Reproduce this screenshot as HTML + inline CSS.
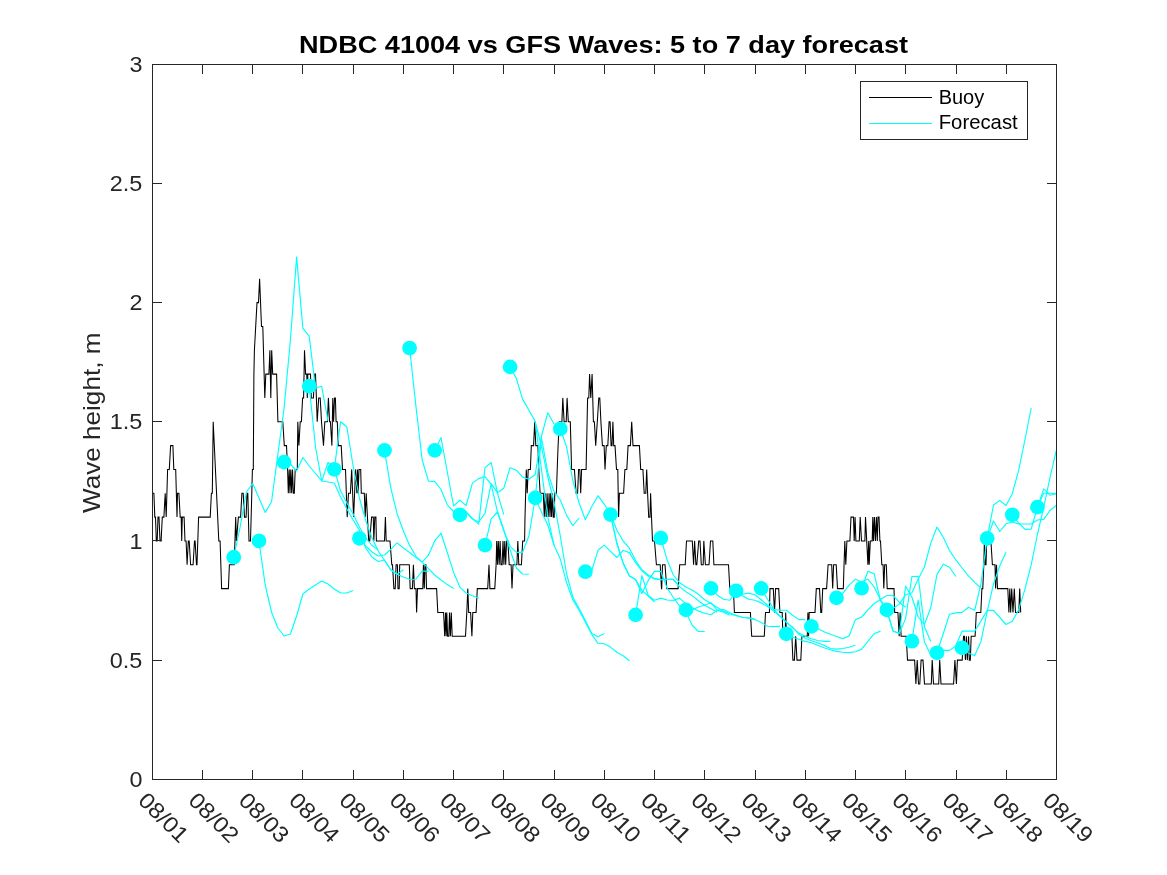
<!DOCTYPE html>
<html><head><meta charset="utf-8"><title>NDBC 41004 vs GFS Waves</title>
<style>
html,body{margin:0;padding:0;background:#fff;}
body{width:1167px;height:875px;overflow:hidden;font-family:"Liberation Sans",sans-serif;}
svg{display:block;will-change:transform;}
svg text{font-family:"Liberation Sans",sans-serif;fill:#262626;}
</style></head><body>
<svg width="1167" height="875" viewBox="0 0 1167 875">
<rect x="0" y="0" width="1167" height="875" fill="#ffffff"/>
<defs><clipPath id="pc"><rect x="152.5" y="64.5" width="904.0" height="715.0"/></clipPath></defs>
<g clip-path="url(#pc)" fill="none" stroke-linejoin="miter" stroke-miterlimit="3">
<polyline points="152.6,493.2 153.9,493.2 154.8,517.1 155.5,517.1 156.3,540.9 157.2,540.9 158.0,517.1 159.0,517.1 160.0,540.9 161.1,540.9 162.3,517.1 163.9,517.1 165.2,493.2 166.2,517.1 167.6,469.4 169.3,469.4 170.6,445.6 172.9,445.6 173.8,469.4 175.7,469.4 177.0,517.1 177.5,493.2 178.9,493.2 180.2,517.1 181.2,517.1 181.7,540.9 182.3,517.1 184.1,517.1 185.0,540.9 186.1,540.9 187.1,564.8 188.3,540.9 189.2,540.9 190.6,564.8 193.1,564.8 194.5,540.9 195.1,540.9 196.5,564.8 197.0,564.8 198.6,517.1 210.2,517.1 211.4,493.2 212.3,493.2 213.2,421.8 218.8,540.9 220.1,540.9 221.6,588.6 228.4,588.6 229.4,564.8 234.2,564.8 235.7,517.1 236.4,540.9 238.4,517.1 240.6,517.1 241.9,493.2 243.2,493.2 244.5,517.1 246.1,517.1 247.0,493.2 247.8,493.2 249.0,540.9 250.5,540.9 251.8,493.2 252.4,469.4 253.3,469.4 253.9,374.1 254.4,350.2 257.0,302.6 258.5,302.6 259.6,278.7 261.5,326.4 262.8,326.4 264.8,397.9 265.8,374.1 268.9,374.1 269.9,350.2 270.8,397.9 271.7,350.2 272.7,374.1 276.6,374.1 277.9,421.8 282.8,421.8 284.3,445.6 286.5,445.6 287.6,469.4 288.3,493.2 289.2,469.4 290.0,493.2 290.8,469.4 291.7,493.2 292.5,469.4 293.4,493.2 294.3,493.2 295.2,469.4 297.3,469.4 297.8,421.8 298.9,445.6 300.2,421.8 301.4,421.8 302.6,397.9 303.6,397.9 304.5,350.2 305.6,374.1 306.8,374.1 307.3,397.9 307.8,374.1 310.5,374.1 311.3,397.9 313.4,397.9 314.6,374.1 315.5,374.1 316.4,397.9 317.2,421.8 318.7,397.9 320.2,397.9 321.5,421.8 323.5,445.6 324.8,421.8 327.4,421.8 328.4,397.9 329.6,421.8 330.4,421.8 331.9,445.6 332.8,397.9 333.6,421.8 334.5,397.9 335.4,397.9 336.1,421.8 337.3,421.8 338.3,445.6 341.2,445.6 342.5,469.4 345.5,469.4 347.2,517.1 348.5,493.2 350.4,493.2 351.7,469.4 353.6,517.1 355.6,469.4 356.9,493.2 357.5,469.4 358.1,493.2 359.0,469.4 360.7,469.4 361.3,493.2 364.3,493.2 365.2,517.1 366.2,493.2 368.7,540.9 369.7,540.9 371.6,517.1 373.3,517.1 373.8,540.9 374.8,517.1 375.9,517.1 376.4,540.9 383.6,540.9 384.5,540.9 385.4,517.1 386.2,540.9 390.0,540.9 391.8,564.8 392.5,564.8 393.9,588.6 395.2,588.6 396.1,564.8 397.4,564.8 398.0,588.6 399.2,588.6 399.7,564.8 409.3,564.8 410.2,588.6 412.4,588.6 413.4,564.8 414.4,588.6 416.0,588.6 416.6,612.4 417.5,588.6 422.8,588.6 423.4,564.8 424.3,588.6 425.0,564.8 425.9,564.8 426.5,588.6 436.6,588.6 437.8,612.4 443.6,612.4 444.7,636.2 445.6,612.4 446.2,636.2 446.8,612.4 447.6,636.2 448.8,636.2 449.5,612.4 450.4,636.2 451.3,612.4 452.2,636.2 465.5,636.2 466.8,612.4 467.8,588.6 468.7,612.4 470.6,612.4 471.9,636.2 472.8,612.4 476.1,612.4 477.3,588.6 487.7,588.6 489.0,564.8 489.9,588.6 494.8,588.6 496.1,564.8 496.7,540.9 497.5,564.8 498.3,540.9 499.2,564.8 500.1,540.9 501.0,564.8 502.1,564.8 503.0,540.9 503.9,564.8 504.8,540.9 505.7,564.8 506.6,540.9 507.9,540.9 509.2,564.8 511.1,564.8 512.0,588.6 513.0,564.8 516.9,564.8 517.8,540.9 518.8,564.8 521.4,564.8 522.7,540.9 524.6,540.9 525.0,517.1 526.3,469.4 527.2,493.2 528.2,469.4 530.4,469.4 531.3,445.6 533.6,445.6 534.7,421.8 535.8,445.6 537.9,445.6 538.8,469.4 540.1,493.2 543.3,493.2 544.3,517.1 545.2,493.2 546.2,517.1 547.1,493.2 548.2,517.1 549.1,493.2 550.0,517.1 550.7,493.2 551.6,517.1 552.5,493.2 553.3,517.1 554.2,517.1 554.8,493.2 556.4,493.2 557.2,469.4 558.1,445.6 559.3,421.8 561.9,421.8 562.8,397.9 564.1,421.8 566.2,421.8 567.1,397.9 568.3,421.8 570.3,421.8 571.6,469.4 574.4,469.4 576.1,493.2 577.6,493.2 578.6,469.4 579.8,469.4 580.7,493.2 581.6,469.4 586.1,469.4 587.6,397.9 588.8,397.9 589.6,374.1 590.8,397.9 592.1,374.1 593.4,421.8 594.4,421.8 595.7,445.6 597.3,421.8 598.8,397.9 599.8,397.9 600.9,421.8 602.4,445.6 604.1,445.6 605.0,469.4 606.3,445.6 607.8,445.6 609.1,421.8 610.1,421.8 611.1,445.6 612.0,445.6 612.9,421.8 613.7,445.6 615.0,445.6 616.5,469.4 617.8,469.4 618.6,517.1 619.4,493.2 623.6,493.2 624.9,469.4 626.8,469.4 628.1,445.6 630.4,445.6 631.7,421.8 633.0,445.6 639.4,445.6 640.7,469.4 642.9,469.4 644.2,493.2 645.8,493.2 646.7,469.4 647.6,493.2 648.7,517.1 650.0,517.1 650.6,493.2 651.5,517.1 652.5,540.9 654.5,540.9 656.4,564.8 660.2,564.8 661.5,588.6 661.7,588.6 662.5,564.8 665.0,564.8 666.8,588.6 678.1,588.6 679.7,564.8 685.2,564.8 686.5,540.9 692.3,540.9 693.6,564.8 694.6,540.9 695.9,564.8 696.8,564.8 698.7,540.9 700.0,540.9 701.3,564.8 703.2,564.8 703.8,540.9 705.4,564.8 709.0,564.8 710.5,540.9 712.8,540.9 713.9,564.8 728.5,564.8 729.8,588.6 733.4,588.6 734.4,612.4 750.4,612.4 751.7,636.2 764.3,636.2 765.5,612.4 769.4,612.4 770.0,588.6 773.3,588.6 774.5,612.4 775.6,588.6 778.7,588.6 779.9,612.4 781.6,612.4 782.2,612.4 782.9,636.2 785.2,636.2 785.7,612.4 786.5,636.2 791.9,636.2 792.9,660.1 794.4,660.1 795.7,636.2 797.0,660.1 800.8,660.1 801.9,636.2 807.3,636.2 807.9,612.4 808.6,636.2 809.2,612.4 815.0,612.4 816.3,588.6 819.5,588.6 820.8,612.4 821.7,612.4 822.7,588.6 826.6,588.6 828.1,564.8 831.7,564.8 832.7,588.6 833.6,564.8 836.2,564.8 837.5,588.6 843.3,588.6 844.8,540.9 845.8,564.8 846.9,540.9 849.9,540.9 851.0,517.1 853.5,517.1 854.2,540.9 855.1,517.1 855.9,540.9 859.3,540.9 860.2,517.1 861.5,540.9 864.9,540.9 865.5,517.1 866.7,540.9 867.9,564.8 868.7,540.9 869.2,564.8 870.3,540.9 872.2,540.9 872.8,517.1 873.5,540.9 874.4,517.1 875.4,540.9 876.4,517.1 877.3,540.9 878.0,517.1 879.0,517.1 879.9,540.9 880.5,540.9 881.8,564.8 883.1,564.8 883.8,588.6 884.7,564.8 886.3,564.8 887.2,588.6 894.0,588.6 894.7,612.4 897.9,612.4 899.2,636.2 900.1,612.4 901.1,636.2 906.2,636.2 907.5,660.1 914.6,660.1 915.9,683.9 917.2,660.1 918.5,683.9 919.8,683.9 921.1,660.1 923.0,660.1 924.5,683.9 931.3,683.9 932.2,660.1 933.5,683.9 938.7,683.9 939.7,660.1 941.0,683.9 953.6,683.9 954.9,660.1 956.4,683.9 957.4,660.1 962.2,660.1 963.5,636.2 964.4,636.2 965.4,660.1 966.4,636.2 967.3,660.1 968.6,636.2 969.3,660.1 970.3,660.1 971.2,636.2 975.1,636.2 976.3,612.4 980.8,612.4 981.9,588.6 982.8,588.6 983.8,564.8 984.4,540.9 985.2,564.8 986.0,564.8 986.7,540.9 990.9,540.9 992.4,564.8 995.0,564.8 995.6,588.6 996.5,564.8 997.5,588.6 1007.8,588.6 1008.9,612.4 1009.8,588.6 1010.7,612.4 1011.7,588.6 1013.0,612.4 1014.3,588.6 1015.5,612.4 1018.8,612.4 1019.7,588.6 1020.7,612.4" stroke="#000" stroke-width="1.05"/>
<polyline points="233.8,557.2 240.1,527.0 246.4,492.0 252.7,483.5 259.0,498.0 265.2,512.4 271.5,502.0 277.8,455.0 284.1,408.0 290.4,340.0 296.6,257.1 302.9,328.4 309.2,336.1 315.5,388.0 321.7,386.3 328.0,421.0" stroke="#00ffff" stroke-width="1.15" stroke-linejoin="round"/>
<polyline points="259.0,540.9 265.2,585.0 271.5,612.0 277.8,628.0 284.1,636.0 290.4,634.0 296.6,616.0 302.9,594.0 309.2,589.0 315.5,585.0 321.7,581.0 328.0,584.0 334.3,589.0 340.6,593.0 346.9,593.0 353.1,590.5" stroke="#00ffff" stroke-width="1.15" stroke-linejoin="round"/>
<polyline points="284.1,462.1 290.4,464.0 296.6,471.0 302.9,457.5 309.2,466.0 315.5,473.5 321.7,481.0 328.0,462.5 334.3,469.0 340.6,491.0 346.9,503.0 353.1,514.0 359.4,527.0 365.7,538.0 372.0,545.5 378.2,549.7" stroke="#00ffff" stroke-width="1.15" stroke-linejoin="round"/>
<polyline points="309.2,386.2 315.5,447.0 321.7,481.0 328.0,482.0 334.3,483.0 340.6,497.0 346.9,509.0 353.1,520.0 359.4,530.0 365.7,548.0 372.0,557.0 378.2,561.5 384.5,560.0 390.8,570.0 397.1,574.3 403.4,569.8" stroke="#00ffff" stroke-width="1.15" stroke-linejoin="round"/>
<polyline points="334.3,469.2 340.6,421.7 346.9,427.0 353.1,466.0 359.4,498.0 365.7,520.5 372.0,538.0 378.2,551.0 384.5,560.2 390.8,569.8 397.1,574.3 403.4,577.0 409.6,579.5 415.9,579.2 422.2,571.1 428.5,571.1" stroke="#00ffff" stroke-width="1.15" stroke-linejoin="round"/>
<polyline points="359.4,538.2 365.7,546.0 372.0,552.0 378.2,556.0 384.5,555.0 390.8,549.3 397.1,542.9 403.4,548.0 409.6,552.5 415.9,557.6 422.2,562.1 428.5,568.6 434.7,575.0 441.0,580.0 447.3,584.6 453.6,588.5" stroke="#00ffff" stroke-width="1.15" stroke-linejoin="round"/>
<polyline points="384.5,450.4 390.8,488.0 397.1,513.7 403.4,531.0 409.6,545.4 415.9,556.3 422.2,562.1 428.5,555.1 434.7,540.9 441.0,533.2 447.3,552.5 453.6,572.4 459.9,587.2 466.1,593.0 472.4,595.8 478.7,598.1" stroke="#00ffff" stroke-width="1.15" stroke-linejoin="round"/>
<polyline points="409.6,348.0 415.9,406.0 422.2,460.0 428.5,481.1 434.7,481.4 441.0,489.5 447.3,504.9 453.6,511.5 459.9,514.0 466.1,512.0 472.4,518.4 478.7,524.2 485.0,467.6 491.2,462.5 497.5,493.3 503.8,514.6" stroke="#00ffff" stroke-width="1.15" stroke-linejoin="round"/>
<polyline points="434.7,450.4 441.0,437.5 447.3,472.0 453.6,506.0 459.9,500.2 466.1,505.6 472.4,483.1 478.7,478.6 485.0,476.6 491.2,484.3 497.5,512.0 503.8,530.0 510.1,550.0 516.4,568.0 522.6,574.0 528.9,574.3" stroke="#00ffff" stroke-width="1.15" stroke-linejoin="round"/>
<polyline points="459.9,514.8 466.1,512.0 472.4,519.0 478.7,522.0 485.0,513.3 491.2,483.7 497.5,492.7 503.8,488.2 510.1,467.7 516.4,470.2 522.6,477.1 528.9,479.2 535.2,474.5 541.5,436.0 547.8,412.8 554.0,424.0" stroke="#00ffff" stroke-width="1.15" stroke-linejoin="round"/>
<polyline points="485.0,545.1 491.2,518.8 497.5,512.0 503.8,530.8 510.1,546.3 516.4,552.3 522.6,552.3 528.9,536.0 535.2,498.0 541.5,438.0 547.8,472.6 554.0,491.4 560.3,500.0 566.6,515.4 572.9,525.7 579.1,518.0" stroke="#00ffff" stroke-width="1.15" stroke-linejoin="round"/>
<polyline points="510.1,366.9 516.4,378.6 522.6,399.1 528.9,410.3 535.2,421.4 541.5,447.0 547.8,477.0 554.0,502.0 560.3,536.0 566.6,574.0 572.9,597.4 579.1,608.6 585.4,620.5 591.7,633.4 598.0,636.8 604.3,633.4" stroke="#00ffff" stroke-width="1.15" stroke-linejoin="round"/>
<polyline points="535.2,497.9 541.5,512.0 547.8,525.0 554.0,545.0 560.3,558.9 566.6,582.8 572.9,600.0 579.1,610.3 585.4,622.3 591.7,634.3 598.0,643.3 604.3,643.7 610.5,647.1 616.8,652.3 623.1,655.7 629.4,660.8" stroke="#00ffff" stroke-width="1.15" stroke-linejoin="round"/>
<polyline points="560.3,428.8 566.6,447.0 572.9,481.0 579.1,503.0 585.4,519.7 591.7,506.8 598.0,495.7 604.3,504.3 610.5,514.5 616.8,543.0 623.1,563.1 629.4,576.0 635.6,579.6 641.9,590.4 648.2,596.0 654.5,602.2" stroke="#00ffff" stroke-width="1.15" stroke-linejoin="round"/>
<polyline points="585.4,571.7 591.7,570.5 598.0,550.3 604.3,545.1 610.5,551.3 616.8,557.5 623.1,550.3 629.4,552.6 635.6,562.6 641.9,570.8 648.2,576.0 654.5,578.9 660.8,579.6 667.0,579.4 673.3,579.4 679.6,586.8" stroke="#00ffff" stroke-width="1.15" stroke-linejoin="round"/>
<polyline points="610.5,514.5 616.8,543.0 623.1,563.1 629.4,576.0 635.6,579.6 641.9,593.5 648.2,580.6 654.5,571.4 660.8,571.4 667.0,587.8 673.3,597.5 679.6,605.8 685.9,612.0 692.1,625.0 698.4,631.5 704.7,631.5" stroke="#00ffff" stroke-width="1.15" stroke-linejoin="round"/>
<polyline points="635.6,614.9 641.9,575.5 648.2,595.5 654.5,600.2 660.8,598.1 667.0,600.0 673.3,600.4 679.6,598.1 685.9,603.9 692.1,607.8 698.4,611.1 704.7,613.2 711.0,614.7 717.3,610.1 723.5,612.2 729.8,615.2" stroke="#00ffff" stroke-width="1.15" stroke-linejoin="round"/>
<polyline points="660.8,538.0 667.0,559.6 673.3,575.0 679.6,582.7 685.9,587.0 692.1,590.0 698.4,594.2 704.7,599.8 711.0,603.4 717.3,607.5 723.5,611.1 729.8,613.7 736.1,615.8 742.4,617.3 748.6,617.8 754.9,619.4" stroke="#00ffff" stroke-width="1.15" stroke-linejoin="round"/>
<polyline points="685.9,609.9 692.1,610.0 698.4,607.0 704.7,605.0 711.0,602.7 717.3,610.4 723.5,609.6 729.8,612.7 736.1,615.2 742.4,617.3 748.6,618.1 754.9,619.4 761.2,622.4 767.5,626.3 773.8,626.6 780.0,626.4" stroke="#00ffff" stroke-width="1.15" stroke-linejoin="round"/>
<polyline points="711.0,588.4 717.3,595.2 723.5,599.3 729.8,600.3 736.1,591.0 742.4,594.2 748.6,593.1 754.9,594.7 761.2,599.8 767.5,605.0 773.8,609.6 780.0,610.1 786.3,610.3 792.6,615.2 798.9,619.6 805.1,619.6" stroke="#00ffff" stroke-width="1.15" stroke-linejoin="round"/>
<polyline points="736.1,590.8 742.4,595.7 748.6,599.3 754.9,600.3 761.2,602.9 767.5,606.5 773.8,611.1 780.0,616.0 786.3,622.0 792.6,627.9 798.9,633.1 805.1,636.3 811.4,638.8 817.7,640.5 824.0,641.4 830.3,641.4" stroke="#00ffff" stroke-width="1.15" stroke-linejoin="round"/>
<polyline points="761.2,588.4 767.5,599.3 773.8,609.1 780.0,616.3 786.3,622.4 792.6,627.1 798.9,634.3 805.1,638.2 811.4,640.8 817.7,642.7 824.0,645.3 830.3,648.5 836.5,649.1 842.8,648.5 849.1,647.2 855.4,645.3" stroke="#00ffff" stroke-width="1.15" stroke-linejoin="round"/>
<polyline points="786.3,633.8 792.6,637.3 798.9,639.2 805.1,641.4 811.4,642.7 817.7,645.3 824.0,647.8 830.3,649.8 836.5,651.4 842.8,652.3 849.1,652.6 855.4,651.7 861.6,649.1 867.9,641.4 874.2,633.7 880.5,631.1" stroke="#00ffff" stroke-width="1.15" stroke-linejoin="round"/>
<polyline points="811.4,626.4 817.7,628.6 824.0,631.8 830.3,634.3 836.5,636.5 842.8,638.6 849.1,636.0 855.4,619.6 861.6,617.0 867.9,609.9 874.2,603.5 880.5,599.5 886.8,595.5 893.0,595.5 899.3,602.2 905.6,607.3" stroke="#00ffff" stroke-width="1.15" stroke-linejoin="round"/>
<polyline points="836.5,597.9 842.8,593.4 849.1,585.2 855.4,579.3 861.6,582.0 867.9,579.0 874.2,587.2 880.5,599.6 886.8,609.9 893.0,631.0 899.3,633.5 905.6,618.6 911.9,576.5 918.2,576.2 924.4,626.8 930.7,641.2" stroke="#00ffff" stroke-width="1.15" stroke-linejoin="round"/>
<polyline points="861.6,588.3 867.9,571.3 874.2,573.9 880.5,601.0 886.8,609.9 893.0,631.0 899.3,633.5 905.6,586.2 911.9,597.0 918.2,617.0 924.4,624.5 930.7,608.0 937.0,574.4 943.3,564.2 949.5,567.3 955.8,576.5" stroke="#00ffff" stroke-width="1.15" stroke-linejoin="round"/>
<polyline points="886.8,609.7 893.0,608.5 899.3,604.1 905.6,594.7 911.9,592.8 918.2,579.0 924.4,567.0 930.7,543.4 937.0,527.0 943.3,537.2 949.5,550.6 955.8,559.8 962.1,568.0 968.4,575.8 974.7,582.4 980.9,587.7" stroke="#00ffff" stroke-width="1.15" stroke-linejoin="round"/>
<polyline points="911.9,641.2 918.2,600.2 924.4,641.7 930.7,655.0 937.0,652.8 943.3,650.4 949.5,650.4 955.8,646.0 962.1,647.9 968.4,653.0 974.7,655.6 980.9,641.7 987.2,611.5 993.5,584.0 999.8,565.7 1006.0,552.3" stroke="#00ffff" stroke-width="1.15" stroke-linejoin="round"/>
<polyline points="937.0,652.8 943.3,633.5 949.5,614.2 955.8,612.9 962.1,612.4 968.4,607.2 974.7,610.3 980.9,584.0 987.2,538.4 993.5,505.0 999.8,500.4 1006.0,505.5 1012.3,493.7 1018.6,470.6 1024.9,440.0 1031.2,408.0" stroke="#00ffff" stroke-width="1.15" stroke-linejoin="round"/>
<polyline points="987.2,538.4 993.5,521.0 999.8,531.5 1006.0,523.8 1012.3,522.0 1018.6,524.0 1024.9,524.0 1031.2,524.0 1037.4,520.0 1043.7,519.4 1050.0,510.5 1056.3,505.5" stroke="#00ffff" stroke-width="1.15" stroke-linejoin="round"/>
<polyline points="1012.3,514.8 1018.6,523.0 1024.9,529.4 1031.2,529.2 1037.4,507.1 1043.7,488.9 1050.0,495.2 1056.3,493.7" stroke="#00ffff" stroke-width="1.15" stroke-linejoin="round"/>
<polyline points="1037.4,507.1 1043.7,493.2 1050.0,493.2 1056.3,493.7" stroke="#00ffff" stroke-width="1.15" stroke-linejoin="round"/>
<polyline points="535.2,421.4 541.5,470.0 547.8,517.0 554.0,545.0" stroke="#00ffff" stroke-width="1.15" stroke-linejoin="round"/>
<polyline points="610.5,514.5 616.8,530.0 623.1,541.0 629.4,548.2 635.6,560.6 641.9,569.8 648.2,575.0 654.5,578.6 660.8,579.6 667.0,579.5 673.3,579.5 679.6,586.6 685.9,591.7 692.1,595.6 698.4,600.7 704.7,605.2 711.0,608.7 717.3,612.3" stroke="#00ffff" stroke-width="1.15" stroke-linejoin="round"/>
<polyline points="955.8,645.8 962.1,631.1 968.4,631.1 974.7,631.1 980.9,621.1 987.2,610.3 993.5,610.3 999.8,617.5 1006.0,624.5 1012.3,621.2 1018.6,609.9 1024.9,589.4 1031.2,564.7 1037.4,534.5 1043.7,507.3 1050.0,477.5 1056.3,450.5" stroke="#00ffff" stroke-width="1.15" stroke-linejoin="round"/>
</g>
<g fill="#00ffff">
<circle cx="233.8" cy="557.2" r="7.35"/>
<circle cx="259.0" cy="540.9" r="7.35"/>
<circle cx="284.1" cy="462.1" r="7.35"/>
<circle cx="309.2" cy="386.2" r="7.35"/>
<circle cx="334.3" cy="469.3" r="7.35"/>
<circle cx="359.4" cy="538.3" r="7.35"/>
<circle cx="384.5" cy="450.4" r="7.35"/>
<circle cx="409.6" cy="348.0" r="7.35"/>
<circle cx="434.7" cy="450.4" r="7.35"/>
<circle cx="459.9" cy="514.8" r="7.35"/>
<circle cx="485.0" cy="545.1" r="7.35"/>
<circle cx="510.1" cy="366.9" r="7.35"/>
<circle cx="535.2" cy="497.9" r="7.35"/>
<circle cx="560.3" cy="428.8" r="7.35"/>
<circle cx="585.4" cy="571.7" r="7.35"/>
<circle cx="610.5" cy="514.6" r="7.35"/>
<circle cx="635.6" cy="614.9" r="7.35"/>
<circle cx="660.8" cy="538.0" r="7.35"/>
<circle cx="685.9" cy="609.9" r="7.35"/>
<circle cx="711.0" cy="588.4" r="7.35"/>
<circle cx="736.1" cy="590.8" r="7.35"/>
<circle cx="761.2" cy="588.4" r="7.35"/>
<circle cx="786.3" cy="633.8" r="7.35"/>
<circle cx="811.4" cy="626.4" r="7.35"/>
<circle cx="836.5" cy="597.9" r="7.35"/>
<circle cx="861.6" cy="588.2" r="7.35"/>
<circle cx="886.8" cy="609.8" r="7.35"/>
<circle cx="911.9" cy="641.2" r="7.35"/>
<circle cx="937.0" cy="652.8" r="7.35"/>
<circle cx="962.1" cy="647.9" r="7.35"/>
<circle cx="987.2" cy="538.3" r="7.35"/>
<circle cx="1012.3" cy="514.8" r="7.35"/>
<circle cx="1037.4" cy="507.1" r="7.35"/>
</g>
<g stroke="#262626" stroke-width="1" fill="none" shape-rendering="crispEdges">
<rect x="152.5" y="64.5" width="904.0" height="715.0"/>
<line x1="202.5" y1="779.5" x2="202.5" y2="770.0"/><line x1="202.5" y1="64.5" x2="202.5" y2="74.0"/>
<line x1="252.5" y1="779.5" x2="252.5" y2="770.0"/><line x1="252.5" y1="64.5" x2="252.5" y2="74.0"/>
<line x1="302.5" y1="779.5" x2="302.5" y2="770.0"/><line x1="302.5" y1="64.5" x2="302.5" y2="74.0"/>
<line x1="353.5" y1="779.5" x2="353.5" y2="770.0"/><line x1="353.5" y1="64.5" x2="353.5" y2="74.0"/>
<line x1="403.5" y1="779.5" x2="403.5" y2="770.0"/><line x1="403.5" y1="64.5" x2="403.5" y2="74.0"/>
<line x1="453.5" y1="779.5" x2="453.5" y2="770.0"/><line x1="453.5" y1="64.5" x2="453.5" y2="74.0"/>
<line x1="503.5" y1="779.5" x2="503.5" y2="770.0"/><line x1="503.5" y1="64.5" x2="503.5" y2="74.0"/>
<line x1="554.5" y1="779.5" x2="554.5" y2="770.0"/><line x1="554.5" y1="64.5" x2="554.5" y2="74.0"/>
<line x1="604.5" y1="779.5" x2="604.5" y2="770.0"/><line x1="604.5" y1="64.5" x2="604.5" y2="74.0"/>
<line x1="654.5" y1="779.5" x2="654.5" y2="770.0"/><line x1="654.5" y1="64.5" x2="654.5" y2="74.0"/>
<line x1="704.5" y1="779.5" x2="704.5" y2="770.0"/><line x1="704.5" y1="64.5" x2="704.5" y2="74.0"/>
<line x1="755.5" y1="779.5" x2="755.5" y2="770.0"/><line x1="755.5" y1="64.5" x2="755.5" y2="74.0"/>
<line x1="805.5" y1="779.5" x2="805.5" y2="770.0"/><line x1="805.5" y1="64.5" x2="805.5" y2="74.0"/>
<line x1="855.5" y1="779.5" x2="855.5" y2="770.0"/><line x1="855.5" y1="64.5" x2="855.5" y2="74.0"/>
<line x1="905.5" y1="779.5" x2="905.5" y2="770.0"/><line x1="905.5" y1="64.5" x2="905.5" y2="74.0"/>
<line x1="956.5" y1="779.5" x2="956.5" y2="770.0"/><line x1="956.5" y1="64.5" x2="956.5" y2="74.0"/>
<line x1="1006.5" y1="779.5" x2="1006.5" y2="770.0"/><line x1="1006.5" y1="64.5" x2="1006.5" y2="74.0"/>
<line x1="152.5" y1="660.5" x2="162.0" y2="660.5"/><line x1="1056.5" y1="660.5" x2="1047.0" y2="660.5"/>
<line x1="152.5" y1="540.5" x2="162.0" y2="540.5"/><line x1="1056.5" y1="540.5" x2="1047.0" y2="540.5"/>
<line x1="152.5" y1="421.5" x2="162.0" y2="421.5"/><line x1="1056.5" y1="421.5" x2="1047.0" y2="421.5"/>
<line x1="152.5" y1="302.5" x2="162.0" y2="302.5"/><line x1="1056.5" y1="302.5" x2="1047.0" y2="302.5"/>
<line x1="152.5" y1="183.5" x2="162.0" y2="183.5"/><line x1="1056.5" y1="183.5" x2="1047.0" y2="183.5"/>
</g>
<text x="142.4" y="786.9" font-size="22.2" text-anchor="end" textLength="13.0" lengthAdjust="spacingAndGlyphs">0</text>
<text x="142.4" y="667.7" font-size="22.2" text-anchor="end" textLength="32.6" lengthAdjust="spacingAndGlyphs">0.5</text>
<text x="142.4" y="548.5" font-size="22.2" text-anchor="end" textLength="13.0" lengthAdjust="spacingAndGlyphs">1</text>
<text x="142.4" y="429.4" font-size="22.2" text-anchor="end" textLength="32.6" lengthAdjust="spacingAndGlyphs">1.5</text>
<text x="142.4" y="310.2" font-size="22.2" text-anchor="end" textLength="13.0" lengthAdjust="spacingAndGlyphs">2</text>
<text x="142.4" y="191.0" font-size="22.2" text-anchor="end" textLength="32.6" lengthAdjust="spacingAndGlyphs">2.5</text>
<text x="142.4" y="71.8" font-size="22.2" text-anchor="end" textLength="13.0" lengthAdjust="spacingAndGlyphs">3</text>
<text transform="translate(137.0,801.8) rotate(45)" x="0" y="0" font-size="22.2" textLength="60" lengthAdjust="spacingAndGlyphs">08/01</text>
<text transform="translate(187.2,801.8) rotate(45)" x="0" y="0" font-size="22.2" textLength="60" lengthAdjust="spacingAndGlyphs">08/02</text>
<text transform="translate(237.5,801.8) rotate(45)" x="0" y="0" font-size="22.2" textLength="60" lengthAdjust="spacingAndGlyphs">08/03</text>
<text transform="translate(287.8,801.8) rotate(45)" x="0" y="0" font-size="22.2" textLength="60" lengthAdjust="spacingAndGlyphs">08/04</text>
<text transform="translate(338.0,801.8) rotate(45)" x="0" y="0" font-size="22.2" textLength="60" lengthAdjust="spacingAndGlyphs">08/05</text>
<text transform="translate(388.2,801.8) rotate(45)" x="0" y="0" font-size="22.2" textLength="60" lengthAdjust="spacingAndGlyphs">08/06</text>
<text transform="translate(438.5,801.8) rotate(45)" x="0" y="0" font-size="22.2" textLength="60" lengthAdjust="spacingAndGlyphs">08/07</text>
<text transform="translate(488.8,801.8) rotate(45)" x="0" y="0" font-size="22.2" textLength="60" lengthAdjust="spacingAndGlyphs">08/08</text>
<text transform="translate(539.0,801.8) rotate(45)" x="0" y="0" font-size="22.2" textLength="60" lengthAdjust="spacingAndGlyphs">08/09</text>
<text transform="translate(589.2,801.8) rotate(45)" x="0" y="0" font-size="22.2" textLength="60" lengthAdjust="spacingAndGlyphs">08/10</text>
<text transform="translate(639.5,801.8) rotate(45)" x="0" y="0" font-size="22.2" textLength="60" lengthAdjust="spacingAndGlyphs">08/11</text>
<text transform="translate(689.8,801.8) rotate(45)" x="0" y="0" font-size="22.2" textLength="60" lengthAdjust="spacingAndGlyphs">08/12</text>
<text transform="translate(740.0,801.8) rotate(45)" x="0" y="0" font-size="22.2" textLength="60" lengthAdjust="spacingAndGlyphs">08/13</text>
<text transform="translate(790.2,801.8) rotate(45)" x="0" y="0" font-size="22.2" textLength="60" lengthAdjust="spacingAndGlyphs">08/14</text>
<text transform="translate(840.5,801.8) rotate(45)" x="0" y="0" font-size="22.2" textLength="60" lengthAdjust="spacingAndGlyphs">08/15</text>
<text transform="translate(890.8,801.8) rotate(45)" x="0" y="0" font-size="22.2" textLength="60" lengthAdjust="spacingAndGlyphs">08/16</text>
<text transform="translate(941.0,801.8) rotate(45)" x="0" y="0" font-size="22.2" textLength="60" lengthAdjust="spacingAndGlyphs">08/17</text>
<text transform="translate(991.2,801.8) rotate(45)" x="0" y="0" font-size="22.2" textLength="60" lengthAdjust="spacingAndGlyphs">08/18</text>
<text transform="translate(1041.5,801.8) rotate(45)" x="0" y="0" font-size="22.2" textLength="60" lengthAdjust="spacingAndGlyphs">08/19</text>
<text transform="translate(100,422.8) rotate(-90)" x="0" y="0" font-size="24.3" text-anchor="middle" textLength="180.5" lengthAdjust="spacingAndGlyphs">Wave height, m</text>
<text x="603.5" y="53" font-size="24.3" font-weight="bold" text-anchor="middle" textLength="609" lengthAdjust="spacingAndGlyphs" fill="#000" style="fill:#000">NDBC 41004 vs GFS Waves: 5 to 7 day forecast</text>
<rect x="860.5" y="81.5" width="167" height="58" fill="#fff" stroke="#262626" stroke-width="1" shape-rendering="crispEdges"/>
<line x1="868.5" y1="97.5" x2="931.5" y2="97.5" stroke="#000" stroke-width="1" shape-rendering="crispEdges"/>
<line x1="868.5" y1="123.5" x2="931.5" y2="123.5" stroke="#00ffff" stroke-width="1" shape-rendering="crispEdges"/>
<text x="938.7" y="104.2" font-size="19.9" textLength="45.5" lengthAdjust="spacingAndGlyphs" style="fill:#000">Buoy</text>
<text x="938.7" y="129" font-size="19.9" textLength="79" lengthAdjust="spacingAndGlyphs" style="fill:#000">Forecast</text>
</svg>
</body></html>
